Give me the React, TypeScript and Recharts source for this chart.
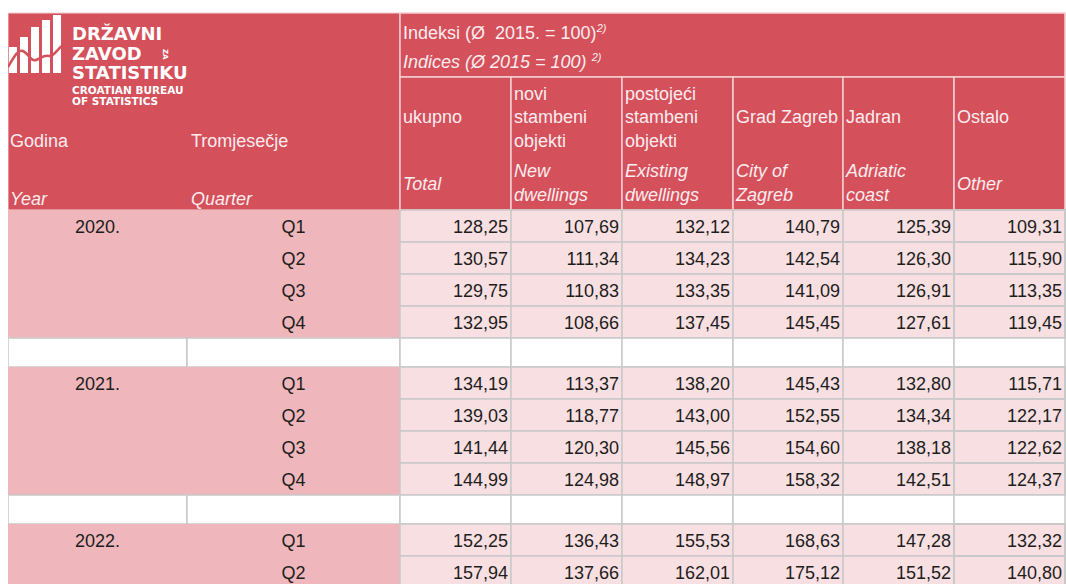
import React from 'react';
import { ComposedChart, Scatter, XAxis, YAxis } from 'recharts';

// Table data
const yearLabels = ['2020.', '2021.', '2022.'];
const quarterLabels = ['Q1', 'Q2', 'Q3', 'Q4', 'Q1', 'Q2', 'Q3', 'Q4', 'Q1', 'Q2'];
const yearOfRow = [0, 0, 0, 0, 1, 1, 1, 1, 2, 2];

const ukupno = [128.25, 130.57, 129.75, 132.95, 134.19, 139.03, 141.44, 144.99, 152.25, 157.94];
const noviObjekti = [107.69, 111.34, 110.83, 108.66, 113.37, 118.77, 120.3, 124.98, 136.43, 137.66];
const postojeciObjekti = [132.12, 134.23, 133.35, 137.45, 138.2, 143.0, 145.56, 148.97, 155.53, 162.01];
const gradZagreb = [140.79, 142.54, 141.09, 145.45, 145.43, 152.55, 154.6, 158.32, 168.63, 175.12];
const jadran = [125.39, 126.3, 126.91, 127.61, 132.8, 134.34, 138.18, 142.51, 147.28, 151.52];
const ostalo = [109.31, 115.9, 113.35, 119.45, 115.71, 122.17, 122.62, 124.37, 132.32, 140.8];

const seriesValues = [ukupno, noviObjekti, postojeciObjekti, gradZagreb, jadran, ostalo];

const columnTitlesHr = [['ukupno'], ['novi', 'stambeni', 'objekti'], ['postojeći', 'stambeni', 'objekti'], ['Grad Zagreb'], ['Jadran'], ['Ostalo']];
const columnTitlesEn = [['Total'], ['New', 'dwellings'], ['Existing', 'dwellings'], ['City of', 'Zagreb'], ['Adriatic', 'coast'], ['Other']];

// Layout (table units, 1 unit = 1px)
const CHART_W = 1058;
const TABLE_H = 571;
const CHART_H = 576;
const COL_EDGES = [0, 179, 392, 503, 614, 725, 835, 946, 1057];
const HEAD_H = 197;
const INDEX_H = 64;
const ROW_H = 32;
const GAP_H = 29;

const RED = '#d4505b';
const PINK_LEFT = '#efb7bb';
const PINK_CELL = '#f8dfe1';
const GRID = '#c9c9c9';
const HEAD_LINE = '#f3cfd2';
const HEAD_TEXT = '#fdecee';
const FONT = '"Liberation Sans", Arial, sans-serif';

const fmt = (v: number) => v.toFixed(2).replace('.', ',');

type CellKind = 'headLeft' | 'headIndex' | 'headCol' | 'left' | 'value' | 'gap';
interface CellDatum {
  kind: CellKind;
  x: number;
  y: number;
  x0: number;
  x1: number;
  y0: number;
  y1: number;
  col?: number;
  text?: string;
  year?: string;
  quarter?: string;
}

function makeCell(kind: CellKind, x0: number, x1: number, y0: number, y1: number, extra: Partial<CellDatum> = {}): CellDatum {
  return { kind, x0, x1, y0, y1, x: (x0 + x1) / 2, y: (y0 + y1) / 2, ...extra };
}

function buildCells(): CellDatum[] {
  const cells: CellDatum[] = [];
  cells.push(makeCell('headLeft', COL_EDGES[0], COL_EDGES[2], 0, HEAD_H));
  cells.push(makeCell('headIndex', COL_EDGES[2], COL_EDGES[8], 0, INDEX_H));
  for (let c = 0; c < 6; c++) {
    cells.push(makeCell('headCol', COL_EDGES[c + 2], COL_EDGES[c + 3], INDEX_H, HEAD_H, { col: c }));
  }
  let y = HEAD_H;
  quarterLabels.forEach((q, i) => {
    const newYear = i === 0 || yearOfRow[i] !== yearOfRow[i - 1];
    if (i > 0 && newYear) {
      for (let c = 0; c < 8; c++) {
        cells.push(makeCell('gap', COL_EDGES[c], COL_EDGES[c + 1], y, y + GAP_H));
      }
      y += GAP_H;
    }
    cells.push(makeCell('left', COL_EDGES[0], COL_EDGES[2], y, y + ROW_H, {
      year: newYear ? yearLabels[yearOfRow[i]] : '',
      quarter: q,
    }));
    seriesValues.forEach((vals, c) => {
      cells.push(makeCell('value', COL_EDGES[c + 2], COL_EDGES[c + 3], y, y + ROW_H, { text: fmt(vals[i]), col: c }));
    });
    y += ROW_H;
  });
  return cells;
}

const cells = buildCells();

function Logo({ left, top }: { left: number; top: number }) {
  const bars = [
    [1, 9, 34],
    [12, 20, 24],
    [23, 31, 14],
    [34, 42, 7],
    [45, 53, 2],
  ];
  return (
    <g transform={`translate(${left},${top})`}>
      {bars.map(([a, b, t], i) => (
        <rect key={i} x={a} y={t} width={b - a} height={60 - t} fill="#ffffff" />
      ))}
      <path d="M0 54 C6 44 10 36 15 38 C20 40 23 49 28 47 C33 45 36 42 41 43 C46 44 49 36 55 32" fill="none" stroke={RED} strokeWidth={2.5} />
      <g fontFamily='"DejaVu Sans", sans-serif' fontWeight="bold" fill="#ffffff">
        <text x={64} y={27} fontSize={18}>DRŽAVNI</text>
        <text x={64} y={47} fontSize={18}>ZAVOD</text>
        <text x={155} y={36} fontSize={7} transform="rotate(90 155 36)">ZA</text>
        <text x={64} y={66} fontSize={18}>STATISTIKU</text>
        <text x={64} y={81} fontSize={10.5}>CROATIAN BUREAU</text>
        <text x={64} y={92} fontSize={10.5}>OF STATISTICS</text>
      </g>
    </g>
  );
}

function renderCell(props: any) {
  const { cx, cy, payload } = props;
  const d = payload as CellDatum;
  const w = d.x1 - d.x0;
  const h = d.y1 - d.y0;
  const left = cx - w / 2;
  const top = cy - h / 2;
  const textProps = { fontFamily: FONT, fontSize: 18 };

  if (d.kind === 'headLeft') {
    return (
      <g>
        <rect x={left} y={top} width={w} height={h} fill={RED} stroke={HEAD_LINE} strokeWidth={1} />
        <Logo left={left} top={top} />
        <g {...textProps} fill={HEAD_TEXT}>
          <text x={left + 2} y={top + 134}>Godina</text>
          <text x={left + 2} y={top + 192} fontStyle="italic">Year</text>
          <text x={left + COL_EDGES[1] + 4} y={top + 134}>Tromjesečje</text>
          <text x={left + COL_EDGES[1] + 4} y={top + 192} fontStyle="italic">Quarter</text>
        </g>
      </g>
    );
  }
  if (d.kind === 'headIndex') {
    return (
      <g>
        <rect x={left} y={top} width={w} height={h} fill={RED} stroke={HEAD_LINE} strokeWidth={1.5} />
        <g {...textProps} fill={HEAD_TEXT}>
          <text x={left + 3} y={top + 26} xmlSpace="preserve">
            {'Indeksi (Ø  2015. = 100)'}
            <tspan fontSize={11} fontStyle="italic" dy={-7}>2)</tspan>
          </text>
          <text x={left + 3} y={top + 55} fontStyle="italic" xmlSpace="preserve">
            {'Indices (Ø 2015 = 100) '}
            <tspan fontSize={11} dy={-7}>2)</tspan>
          </text>
        </g>
      </g>
    );
  }
  if (d.kind === 'headCol') {
    const hr = columnTitlesHr[d.col!];
    const en = columnTitlesEn[d.col!];
    const hrY = hr.length === 3 ? [23, 46, 70] : [46];
    const enY = en.length === 2 ? [100, 124] : [113];
    return (
      <g>
        <rect x={left} y={top} width={w} height={h} fill={RED} stroke={HEAD_LINE} strokeWidth={1.5} />
        <g {...textProps} fill={HEAD_TEXT}>
          {hr.map((t, i) => (
            <text key={'h' + i} x={left + 3} y={top + hrY[i]}>{t}</text>
          ))}
          {en.map((t, i) => (
            <text key={'e' + i} x={left + 3} y={top + enY[i]} fontStyle="italic">{t}</text>
          ))}
        </g>
      </g>
    );
  }
  if (d.kind === 'left') {
    return (
      <g>
        <rect x={left} y={top} width={w} height={h} fill={PINK_LEFT} />
        <g {...textProps} fill="#1d1d1d" textAnchor="middle">
          {d.year ? <text x={left + COL_EDGES[1] / 2} y={top + 23}>{d.year}</text> : null}
          <text x={left + (COL_EDGES[1] + COL_EDGES[2]) / 2} y={top + 23}>{d.quarter}</text>
        </g>
      </g>
    );
  }
  if (d.kind === 'gap') {
    return <rect x={left} y={top} width={w} height={h} fill="#ffffff" stroke={GRID} strokeWidth={1.5} />;
  }
  // value cell
  return (
    <g>
      <rect x={left} y={top} width={w} height={h} fill={PINK_CELL} stroke={GRID} strokeWidth={d.col === 5 ? 2 : 1.5} />
      <text {...textProps} fill="#1d1d1d" textAnchor="end" x={left + w - 3} y={top + 23}>{d.text}</text>
    </g>
  );
}

export default function App() {
  return (
    <div style={{ position: 'absolute', left: 8, top: 8, width: CHART_W, height: CHART_H }}>
      {/* keep the page from scrolling; the table runs to the bottom edge */}
      <style>{'html, body { overflow: hidden; margin: 0; }'}</style>
      <ComposedChart width={CHART_W} height={CHART_H} margin={{ top: 5, right: 0, bottom: 0, left: 0 }}>
        <XAxis type="number" dataKey="x" domain={[0, CHART_W]} hide />
        <YAxis type="number" dataKey="y" domain={[0, TABLE_H]} reversed hide />
        <Scatter data={cells} isAnimationActive={false} shape={renderCell} />
      </ComposedChart>
    </div>
  );
}
